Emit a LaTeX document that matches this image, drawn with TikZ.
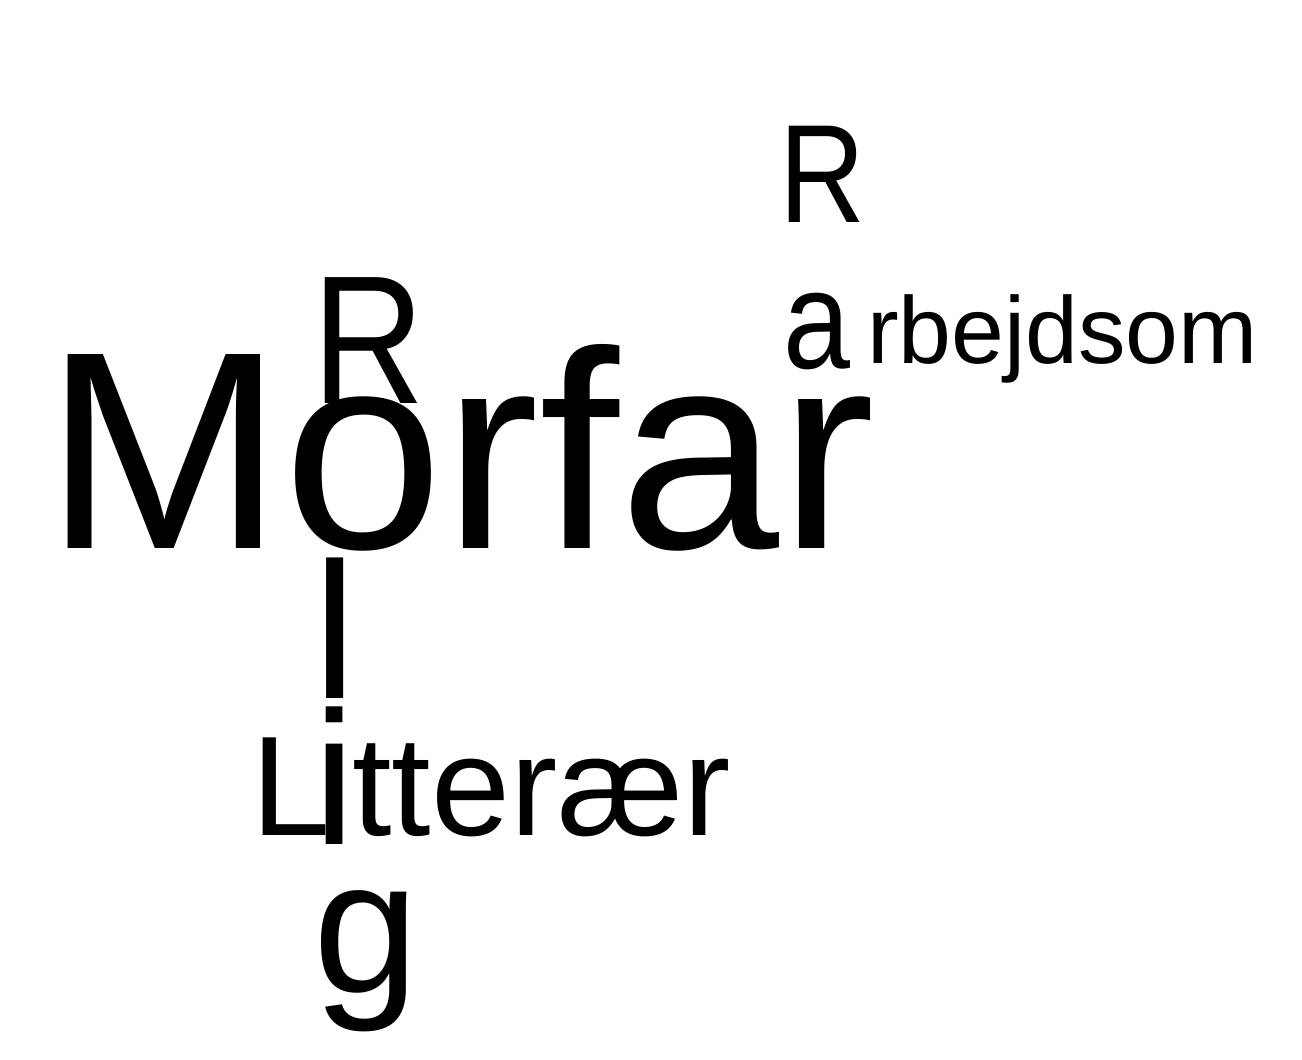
\documentclass[tikz,border=0pt]{standalone}
\usepackage{fontspec}
\setmainfont{Liberation Sans}
\newcommand{\fsz}[1]{\fontsize{#1}{#1}\selectfont}
\begin{document}
\begin{tikzpicture}[x=1pt,y=-1pt,
  glyph/.style={inner sep=0pt,outer sep=0pt,text=black,anchor=base west}]
\useasboundingbox[fill=white] (0,0) rectangle (1302,1060);
% horizontal words
\node[glyph,font=\fsz{282}] (morfar) at (44,548) {\scalebox{1.02}[1]{Morfar}};
\node[glyph,font=\fsz{142}] (lL) at (251,835) {L};
\node[glyph,font=\fsz{142}] (tterar) at (352.5,835) {tterær};
\node[glyph,font=\fsz{95}] (rbejdsom) at (867,363) {rbejdsom};
% vertical word (left)
\node[glyph,font=\fsz{183}] (r1) at (312,403) {\scalebox{0.85}[1]{R}};
\node[glyph,font=\fsz{194}] (l1) at (313,698) {l};
\node[glyph,font=\fsz{190}] (i1) at (313,844) {i};
\node[glyph,font=\fsz{190}] (g1) at (313,992) {g};
% vertical word (right)
\node[glyph,font=\fsz{140}] (r2) at (779,222) {\scalebox{0.85}[1]{R}};
\node[glyph,font=\fsz{140}] (a2) at (783,368) {\scalebox{0.86}[1]{a}};
\end{tikzpicture}
\end{document}
